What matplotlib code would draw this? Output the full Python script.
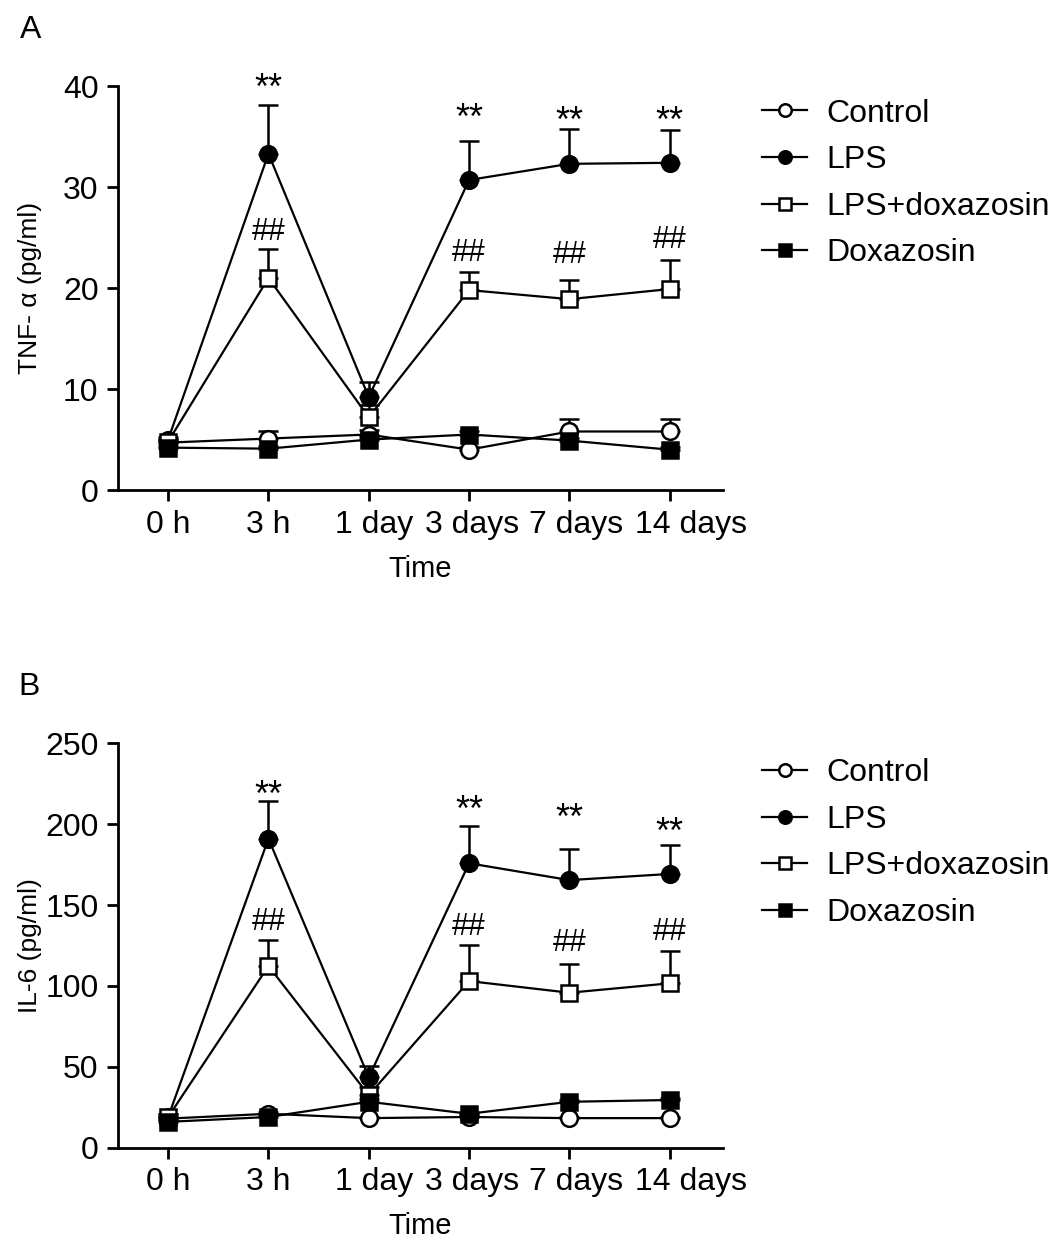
import matplotlib
matplotlib.use("Agg")
import matplotlib.pyplot as plt
import matplotlib.transforms as mtransforms
import numpy as np

plt.rcParams['font.family'] = ['Liberation Sans', 'DejaVu Sans']

# --- данные ---
times = ['0 h', '3 h', '1 day', '3 days', '7 days', '14 days']
groups = ['Control', 'LPS', 'LPS+doxazosin', 'Doxazosin']

tnf_control = [4.7, 5.1, 5.5, 4.0, 5.8, 5.8]
tnf_control_err = [0.3, 0.7, 0.4, 0.3, 1.2, 1.2]
tnf_lps = [5.0, 33.3, 9.2, 30.7, 32.3, 32.4]
tnf_lps_err = [0.3, 4.8, 1.5, 3.9, 3.4, 3.2]
tnf_lps_dox = [4.8, 21.0, 7.2, 19.8, 18.9, 19.9]
tnf_lps_dox_err = [0.3, 2.9, 1.2, 1.8, 1.9, 2.9]
tnf_dox = [4.2, 4.1, 5.0, 5.5, 4.9, 4.0]
tnf_dox_err = [0.2, 0.3, 0.3, 0.3, 0.3, 0.3]

il6_control = [18.0, 21.0, 18.3, 19.0, 18.3, 18.3]
il6_control_err = [1.0, 1.0, 1.0, 1.0, 1.0, 1.0]
il6_lps = [19.0, 191.0, 43.5, 175.8, 165.4, 169.2]
il6_lps_err = [2.0, 23.0, 7.0, 23.0, 19.0, 18.0]
il6_lps_dox = [19.0, 112.3, 32.5, 103.0, 95.8, 101.6]
il6_lps_dox_err = [2.0, 16.0, 5.0, 22.0, 18.0, 20.0]
il6_dox = [16.0, 19.0, 28.4, 21.0, 28.4, 29.5]
il6_dox_err = [1.0, 1.0, 2.0, 1.0, 1.0, 1.0]

# метки значимости: индекс точки и высота центра значка
sig_idx = [1, 3, 4, 5]
tnf_star_y = [40.8, 37.8, 37.5, 37.5]
tnf_hash_y = [25.9, 23.8, 23.6, 25.1]
il6_star_y = [224.0, 214.9, 209.8, 201.5]
il6_hash_y = [141.8, 138.7, 128.4, 135.6]

FS = 23        # подписи делений и легенда
FS_X = 21      # подпись оси X
FS_Y = 19      # подпись оси Y
FS_STAR = 26   # **
FS_HASH = 22   # ##
# сдвиг подписей делений вправо (пт), как в исходной картинке
label_shift = [0, 0, 4, 2, 5, 15]
styles = [
    dict(marker='o', mfc='white'),
    dict(marker='o', mfc='black'),
    dict(marker='s', mfc='white'),
    dict(marker='s', mfc='black'),
]


def draw_panel(fig, ax, series, errs, ylim, yticks, ylabel, star_y, hash_y):
    x = np.arange(len(times))
    handles = []
    for vals, err, st, name in zip(series, errs, styles, groups):
        ax.errorbar(x, vals, yerr=[np.zeros(len(err)), err], fmt='none',
                    ecolor='black', elinewidth=1.8, capsize=7, capthick=1.8,
                    zorder=2)
        h, = ax.plot(x, vals, color='black', lw=1.6, marker=st['marker'],
                     mfc=st['mfc'], mec='black', mew=1.8, ms=12,
                     label=name, zorder=3, clip_on=False)
        handles.append(h)

    for i, ys, yh in zip(sig_idx, star_y, hash_y):
        ax.annotate('**', (i, ys), xytext=(0, -15), textcoords='offset points',
                    ha='center', va='baseline', fontsize=FS_STAR, annotation_clip=False)
        ax.annotate('##', (i, yh), xytext=(0, -8.1), textcoords='offset points',
                    ha='center', va='baseline', fontsize=FS_HASH, annotation_clip=False)

    ax.set_xlim(-0.5, 5.53)
    ax.set_ylim(*ylim)
    ax.set_yticks(yticks)
    ax.set_xticks(x)
    ax.set_xticklabels(times)
    ax.spines['top'].set_visible(False)
    ax.spines['right'].set_visible(False)
    for s in ['left', 'bottom']:
        ax.spines[s].set_linewidth(2)
    ax.tick_params(axis='both', labelsize=FS, width=2, length=8, direction='out')
    ax.tick_params(axis='x', pad=6)
    ax.tick_params(axis='y', pad=6)
    for lab, dx in zip(ax.get_xticklabels(), label_shift):
        off = mtransforms.ScaledTranslation(dx / 72, 0, fig.dpi_scale_trans)
        lab.set_transform(lab.get_transform() + off)
    ax.set_xlabel('Time', fontsize=FS_X, labelpad=11)
    ax.set_ylabel(ylabel, fontsize=FS_Y)
    ax.yaxis.set_label_coords(-0.126, 0.5)
    return handles


fig = plt.figure(figsize=(10.63, 12.47), dpi=100)
ax_a = fig.add_axes([0.111, 0.607, 0.569, 0.324])
ax_b = fig.add_axes([0.111, 0.0796, 0.569, 0.3244])

h_a = draw_panel(fig, ax_a, [tnf_control, tnf_lps, tnf_lps_dox, tnf_dox],
                 [tnf_control_err, tnf_lps_err, tnf_lps_dox_err, tnf_dox_err],
                 (0, 40), [0, 10, 20, 30, 40], 'TNF- α (pg/ml)',
                 tnf_star_y, tnf_hash_y)
h_b = draw_panel(fig, ax_b, [il6_control, il6_lps, il6_lps_dox, il6_dox],
                 [il6_control_err, il6_lps_err, il6_lps_dox_err, il6_dox_err],
                 (0, 250), [0, 50, 100, 150, 200, 250], 'IL-6 (pg/ml)',
                 il6_star_y, il6_hash_y)

for ax, h, ytop in [(ax_a, h_a, 0.921), (ax_b, h_b, 0.392)]:
    ax.legend(handles=h, loc='upper left', bbox_to_anchor=(0.717, ytop),
              bbox_transform=fig.transFigure, frameon=False, fontsize=FS,
              borderpad=0, borderaxespad=0, handlelength=1.4,
              handletextpad=0.6, labelspacing=0.52, markerscale=0.75)

fig.text(31 / 1063, 1 - 30 / 1247, 'A', fontsize=FS, ha='center', va='center')
fig.text(29 / 1063, 1 - 687 / 1247, 'B', fontsize=FS, ha='center', va='center')

fig.savefig('out.png', dpi=100)
